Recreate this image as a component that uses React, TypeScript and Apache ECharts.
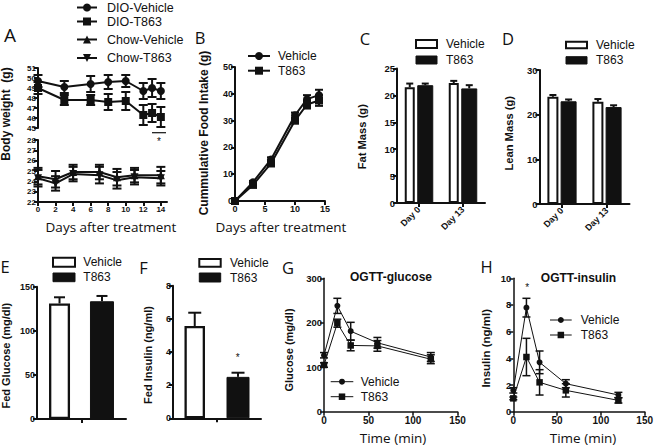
import React, { useEffect, useRef } from 'react';
import * as echarts from 'echarts';

// ---------- Panel A: body weight ----------
const aDioDays = [0, 3, 6, 8, 10, 12, 13, 14];
const aDioVehicle = [49.7, 49.1, 49.4, 49.6, 49.7, 48.7, 49.0, 48.7];
const aDioVehicleErr = [0.6, 0.6, 0.8, 0.7, 0.6, 0.8, 0.9, 0.8];
const aDioT863 = [49.0, 47.8, 47.8, 47.6, 47.7, 46.3, 46.5, 46.1];
const aDioT863Err = [0.6, 0.5, 0.5, 0.8, 0.9, 1.0, 0.9, 1.0];
const aChowDays = [0, 2, 4, 7, 9, 11, 14];
const aChowVehicle = [24.5, 24.2, 24.9, 24.9, 24.4, 24.6, 24.6];
const aChowVehicleErr = [0.8, 0.8, 0.7, 0.7, 0.8, 0.7, 0.8];
const aChowT863 = [24.3, 23.8, 24.7, 24.6, 24.1, 24.4, 24.3];
const aChowT863Err = [0.8, 0.7, 0.7, 0.8, 0.8, 0.7, 0.7];
const aXTicks = [0, 2, 4, 6, 8, 10, 12, 14];

// ---------- Panel B: cumulative food intake ----------
const bDays = [0, 3, 6, 10, 12, 14];
const bVehicle = [0, 7, 15.5, 32, 38, 39.5];
const bVehicleErr = [0, 0.5, 0.8, 1, 1.5, 2];
const bT863 = [0, 6, 14, 30, 36, 37.5];
const bT863Err = [0, 0.5, 0.8, 1, 1.5, 2];

// ---------- Panels C, D: body composition ----------
const cdCategories = ['Day 0', 'Day 13'];
const cFatVehicle = [21.5, 22.3];
const cFatVehicleErr = [0.7, 0.4];
const cFatT863 = [21.9, 21.3];
const cFatT863Err = [0.3, 0.6];
const dLeanVehicle = [24.0, 22.9];
const dLeanVehicleErr = [0.4, 0.6];
const dLeanT863 = [23.0, 21.7];
const dLeanT863Err = [0.4, 0.4];

// ---------- Panels E, F: fed glucose / insulin ----------
const efCategories = [''];
const eGlucoseVehicle = [131];
const eGlucoseVehicleErr = [7];
const eGlucoseT863 = [133.5];
const eGlucoseT863Err = [6];
const fInsulinVehicle = [5.57];
const fInsulinVehicleErr = [0.8];
const fInsulinT863 = [2.5];
const fInsulinT863Err = [0.25];

// ---------- Panels G, H: OGTT ----------
const ogttTimes = [0, 15, 30, 60, 120];
const gVehicle = [127, 238, 181, 155, 123];
const gVehicleErr = [6, 17, 20, 12, 10];
const gT863 = [105, 199, 149, 148, 118];
const gT863Err = [5, 9, 12, 12, 10];
const hVehicle = [1.6, 7.8, 3.7, 2.1, 1.25];
const hVehicleErr = [0.2, 0.7, 0.85, 0.3, 0.2];
const hT863 = [1.0, 4.1, 2.2, 1.6, 0.85];
const hT863Err = [0.1, 1.4, 0.95, 0.5, 0.2];

const BLACK = '#111';
const ARIAL = '"Liberation Sans", Arial, sans-serif';
const OPEN = '"Open Sans", sans-serif';

function txt(x: number, y: number, t: string, size: number, o: any = {}) {
  const align = o.align || 'left';
  return {
    type: 'text', x, y, rotation: o.rot || 0, silent: true,
    style: {
      text: t, fill: BLACK, fontSize: size, fontWeight: o.bold ? 'bold' : 'normal',
      fontFamily: o.family || ARIAL, align, verticalAlign: 'middle',
      textAlign: align, textVerticalAlign: 'middle',
    },
  };
}

function marker(kind: string, cx: number, cy: number, s: number) {
  if (kind === 'circle') return { type: 'circle', silent: true, shape: { cx, cy, r: s / 2 }, style: { fill: BLACK } };
  if (kind === 'rect') return { type: 'rect', silent: true, shape: { x: cx - s / 2, y: cy - s / 2, width: s, height: s }, style: { fill: BLACK } };
  const h = s / 2;
  if (kind === 'up') return { type: 'polygon', silent: true, shape: { points: [[cx, cy - h], [cx + h, cy + h], [cx - h, cy + h]] }, style: { fill: BLACK } };
  return { type: 'polygon', silent: true, shape: { points: [[cx, cy + h], [cx + h, cy - h], [cx - h, cy - h]] }, style: { fill: BLACK } };
}

function lineLegend(x1: number, x2: number, y: number, kind: string, s: number, lw: number, label: string, tx: number, fs: number) {
  return [
    { type: 'line', silent: true, shape: { x1, y1: y, x2, y2: y }, style: { stroke: BLACK, lineWidth: lw } },
    marker(kind, (x1 + x2) / 2, y, s),
    txt(tx, y, label, fs),
  ];
}

function boxLegend(x1: number, x2: number, y1: number, y2: number, white: boolean, label: string, tx: number, fs: number, bw = 2) {
  return [
    {
      type: 'rect', silent: true,
      shape: { x: x1, y: y1, width: x2 - x1, height: y2 - y1 },
      style: white ? { fill: '#fff', stroke: BLACK, lineWidth: bw } : { fill: BLACK, stroke: BLACK, lineWidth: 1 },
    },
    txt(tx, (y1 + y2) / 2, label, fs),
  ];
}

function valueAxis(gi: number, min: number, max: number, interval: number, fs: number, lw = 2, extra: any = {}) {
  return {
    type: 'value', gridIndex: gi, min, max, interval,
    splitLine: { show: false },
    axisLine: { show: true, onZero: false, lineStyle: { color: BLACK, width: lw } },
    axisTick: { show: true, length: 4, lineStyle: { color: BLACK, width: lw }, ...(extra.tick || {}) },
    axisLabel: { color: BLACK, fontSize: fs, fontWeight: 'bold', fontFamily: ARIAL, margin: 2, ...(extra.label || {}) },
    show: extra.show === undefined ? true : extra.show,
  };
}

function catAxis(gi: number, data: string[], fs: number, rotate: number) {
  return {
    type: 'category', gridIndex: gi, data, boundaryGap: true,
    axisLine: { show: true, lineStyle: { color: BLACK, width: 2 } },
    axisTick: { show: true, alignWithLabel: true, length: 4, lineStyle: { color: BLACK, width: 2 } },
    axisLabel: { color: BLACK, fontSize: fs, fontWeight: 'bold', fontFamily: ARIAL, rotate, margin: 5, interval: 0 },
    splitLine: { show: false },
  };
}

function lineSeries(xs: number[], ys: number[], gi: number, symbol: string, size: number, lw: number, rot = 0) {
  return {
    type: 'line', xAxisIndex: gi, yAxisIndex: gi,
    data: xs.map((x, i) => [x, ys[i]]),
    symbol, symbolSize: size, symbolRotate: rot, showSymbol: true,
    lineStyle: { color: BLACK, width: lw }, itemStyle: { color: BLACK },
    z: 3, silent: true,
  };
}

function errSeries(xs: number[], ys: number[], es: number[], gi: number, capW: number, lw: number, offset = 0, upOnly = false) {
  return {
    type: 'custom', xAxisIndex: gi, yAxisIndex: gi, silent: true, z: 2,
    data: xs.map((x, i) => [x, ys[i], es[i]]),
    encode: { x: 0, y: 1 },
    renderItem: (_p: any, api: any) => {
      const x = api.value(0), y = api.value(1), e = api.value(2);
      const top = api.coord([x, y + e]);
      const bot = api.coord([x, upOnly ? y : y - e]);
      const cx = top[0] + offset;
      const st = { stroke: BLACK, lineWidth: lw };
      const children: any[] = [
        { type: 'line', shape: { x1: cx, y1: top[1], x2: cx, y2: bot[1] }, style: st },
        { type: 'line', shape: { x1: cx - capW / 2, y1: top[1], x2: cx + capW / 2, y2: top[1] }, style: st },
      ];
      if (!upOnly) children.push({ type: 'line', shape: { x1: cx - capW / 2, y1: bot[1], x2: cx + capW / 2, y2: bot[1] }, style: st });
      return { type: 'group', children };
    },
  };
}

// bar pair geometry: widths of white and black bar, gap fraction
function barPair(gi: number, cats: string[], vW: number[], eW: number[], vB: number[], eB: number[], wW: number, wB: number, gap: number, capW: number, bw: number) {
  const total = wW * (1 + gap) + wB;
  const offW = -total / 2 + wW / 2;
  const offB = -total / 2 + wW * (1 + gap) + wB / 2;
  const idx = cats.map((_, i) => i);
  return [
    {
      type: 'bar', xAxisIndex: gi, yAxisIndex: gi, data: vW, barWidth: wW, barGap: gap * 100 + '%', silent: true,
      itemStyle: { color: '#fff', borderColor: BLACK, borderWidth: bw }, z: 2,
    },
    {
      type: 'bar', xAxisIndex: gi, yAxisIndex: gi, data: vB, barWidth: wB, barGap: gap * 100 + '%', silent: true,
      itemStyle: { color: BLACK, borderColor: BLACK, borderWidth: 1 }, z: 2,
    },
    errSeries(idx, vW, eW, gi, capW, 2, offW, true),
    errSeries(idx, vB, eB, gi, capW, 2, offB, true),
  ];
}

export default function App() {
  const ref = useRef<HTMLDivElement>(null);
  useEffect(() => {
    if (!ref.current) return;
    const chart = echarts.init(ref.current, null, { renderer: 'svg', width: 656, height: 448 });
    const grids = [
      { left: 38, top: 68, width: 129, height: 60 },      // A upper
      { left: 38, top: 140, width: 129, height: 62 },     // A lower
      { left: 235, top: 67, width: 90, height: 134 },     // B
      { left: 397, top: 68.5, width: 88, height: 134.5 }, // C
      { left: 539.5, top: 70, width: 90, height: 134 },   // D
      { left: 37, top: 286.7, width: 89, height: 132.3 }, // E
      { left: 173, top: 285.7, width: 88, height: 132.6 },// F
      { left: 324, top: 278.3, width: 133.5, height: 133.4 }, // G
      { left: 513.3, top: 278.3, width: 135, height: 133.4 }, // H
    ];
    const xAxis: any[] = [
      valueAxis(0, 0, 14.7, 2, 8, 2, { show: false }),
      valueAxis(1, 0, 14.7, 2, 8, 2, { tick: { customValues: aXTicks }, label: { customValues: aXTicks, margin: 3 } }),
      valueAxis(2, 0, 15, 5, 9, 2, { label: { margin: 3 } }),
      catAxis(3, cdCategories, 9, 45),
      catAxis(4, cdCategories, 9, 45),
      { ...catAxis(5, efCategories, 9, 0), axisLabel: { show: false } },
      { ...catAxis(6, efCategories, 9, 0), axisLabel: { show: false } },
      valueAxis(7, 0, 150, 50, 10, 1.5, { label: { margin: 4 } }),
      valueAxis(8, 0, 150, 50, 10, 1.5, { label: { margin: 4 } }),
    ];
    const yAxis: any[] = [
      valueAxis(0, 45, 51, 1, 8, 2),
      valueAxis(1, 22, 28, 1, 8, 2),
      valueAxis(2, 0, 50, 10, 9, 2),
      valueAxis(3, 0, 25, 5, 9.5, 2),
      valueAxis(4, 0, 30, 10, 9.5, 2),
      valueAxis(5, 0, 150, 50, 9, 2),
      valueAxis(6, 0, 8, 2, 9, 2),
      valueAxis(7, 0, 300, 100, 9.5, 1.5),
      valueAxis(8, 0, 10, 2, 9.5, 1.5),
    ];
    const series: any[] = [
      // A
      errSeries(aDioDays, aDioVehicle, aDioVehicleErr, 0, 9, 2),
      errSeries(aDioDays, aDioT863, aDioT863Err, 0, 9, 2),
      lineSeries(aDioDays, aDioVehicle, 0, 'circle', 8, 2),
      lineSeries(aDioDays, aDioT863, 0, 'rect', 8, 2),
      errSeries(aChowDays, aChowVehicle, aChowVehicleErr, 1, 9, 2),
      errSeries(aChowDays, aChowT863, aChowT863Err, 1, 9, 2),
      lineSeries(aChowDays, aChowVehicle, 1, 'triangle', 8, 2),
      lineSeries(aChowDays, aChowT863, 1, 'triangle', 8, 2, 180),
      // B
      errSeries(bDays, bVehicle, bVehicleErr, 2, 8, 2),
      errSeries(bDays, bT863, bT863Err, 2, 8, 2),
      lineSeries(bDays, bVehicle, 2, 'circle', 8, 2),
      lineSeries(bDays, bT863, 2, 'rect', 8, 2),
      // C, D, E, F
      ...barPair(3, cdCategories, cFatVehicle, cFatVehicleErr, cFatT863, cFatT863Err, 10, 16, 0.25, 7, 2),
      ...barPair(4, cdCategories, dLeanVehicle, dLeanVehicleErr, dLeanT863, dLeanT863Err, 11, 16, 0.2, 7, 2),
      ...barPair(5, efCategories, eGlucoseVehicle, eGlucoseVehicleErr, eGlucoseT863, eGlucoseT863Err, 21, 24, 0.95, 11, 2.3),
      ...barPair(6, efCategories, fInsulinVehicle, fInsulinVehicleErr, fInsulinT863, fInsulinT863Err, 20.5, 23, 1.05, 13, 2.3),
      // G
      errSeries(ogttTimes, gVehicle, gVehicleErr, 7, 8, 1.5),
      errSeries(ogttTimes, gT863, gT863Err, 7, 8, 1.5),
      lineSeries(ogttTimes, gVehicle, 7, 'circle', 6, 1),
      lineSeries(ogttTimes, gT863, 7, 'rect', 6.5, 1),
      // H
      errSeries(ogttTimes, hVehicle, hVehicleErr, 8, 8, 1.5),
      errSeries(ogttTimes, hT863, hT863Err, 8, 8, 1.5),
      lineSeries(ogttTimes, hVehicle, 8, 'circle', 6, 1),
      lineSeries(ogttTimes, hT863, 8, 'rect', 6.5, 1),
    ];
    const R = Math.PI / 2;
    const graphic: any[] = [
      // panel letters
      txt(10, 35, 'A', 19, { family: OPEN, align: 'center' }),
      txt(200, 37, 'B', 16.5, { family: OPEN, align: 'center' }),
      txt(365, 38, 'C', 16.5, { family: OPEN, align: 'center' }),
      txt(508, 38, 'D', 16.5, { family: OPEN, align: 'center' }),
      txt(5, 266, 'E', 16.5, { family: OPEN, align: 'center' }),
      txt(143.5, 267, 'F', 16.5, { family: OPEN, align: 'center' }),
      txt(288, 267, 'G', 16.5, { family: OPEN, align: 'center' }),
      txt(486.7, 266, 'H', 16.5, { family: OPEN, align: 'center' }),
      // A legend
      ...lineLegend(77, 97, 7.5, 'circle', 8, 2, 'DIO-Vehicle', 107, 12.5),
      ...lineLegend(77, 97, 21.5, 'rect', 8, 2, 'DIO-T863', 107, 12.5),
      ...lineLegend(77, 97, 39.5, 'up', 8, 2, 'Chow-Vehicle', 107, 12.5),
      ...lineLegend(77, 97, 58, 'down', 8, 2, 'Chow-T863', 107, 12.5),
      // A annotations
      { type: 'line', silent: true, shape: { x1: 152, y1: 132.7, x2: 166, y2: 132.7 }, style: { stroke: BLACK, lineWidth: 1.2 } },
      txt(159, 141, '*', 10, { align: 'center' }),
      txt(6, 114, 'Body weight  (g)', 12, { bold: true, align: 'center', rot: R }),
      txt(111, 227, 'Days after treatment', 13.5, { family: OPEN, align: 'center' }),
      // B
      ...lineLegend(248, 270, 56, 'circle', 8, 2, 'Vehicle', 278, 12),
      ...lineLegend(248, 270, 70.7, 'rect', 8, 2, 'T863', 278, 12),
      txt(203.5, 133, 'Cummulative Food Intake (g)', 12, { bold: true, align: 'center', rot: R }),
      txt(281, 227, 'Days after treatment', 13.5, { family: OPEN, align: 'center' }),
      // C
      ...boxLegend(416, 437, 40, 48, true, 'Vehicle', 446, 12),
      ...boxLegend(416, 437, 56, 64, false, 'T863', 446, 12),
      txt(362, 136.7, 'Fat Mass (g)', 11.2, { bold: true, align: 'center', rot: R }),
      // D
      ...boxLegend(566, 587, 41.7, 48.3, true, 'Vehicle', 596, 12),
      ...boxLegend(566, 587, 56.7, 64, false, 'T863', 596, 12),
      txt(508.8, 133.3, 'Lean Mass (g)', 11.2, { bold: true, align: 'center', rot: R }),
      // E
      ...boxLegend(53, 75, 257.7, 266.7, true, 'Vehicle', 83.3, 12),
      ...boxLegend(53, 75, 273, 281.7, false, 'T863', 83.3, 12),
      txt(5.5, 355.7, 'Fed Glucose (mg/dl)', 11, { bold: true, align: 'center', rot: R }),
      // F
      ...boxLegend(199.3, 220.7, 259, 266.7, true, 'Vehicle', 230, 12),
      ...boxLegend(199.3, 220.7, 273, 282, false, 'T863', 230, 12),
      txt(148, 355, 'Fed Insulin (ng/ml)', 11, { bold: true, align: 'center', rot: R }),
      txt(237.7, 357.5, '*', 10, { align: 'center' }),
      // G
      txt(391, 277.3, 'OGTT-glucose', 12, { bold: true, align: 'center' }),
      ...lineLegend(330.7, 353.3, 381.7, 'circle', 6, 1, 'Vehicle', 360.7, 12),
      ...lineLegend(330.7, 353.3, 396.7, 'rect', 6.5, 1, 'T863', 360.7, 12),
      txt(289, 350, 'Glucose (mg/dl)', 11, { bold: true, align: 'center', rot: R }),
      txt(393, 437.5, 'Time (min)', 13.5, { family: OPEN, align: 'center' }),
      // H
      txt(578.5, 278.3, 'OGTT-insulin', 12, { bold: true, align: 'center' }),
      txt(527.3, 287, '*', 10, { align: 'center' }),
      ...lineLegend(550, 571.7, 320, 'circle', 6, 1, 'Vehicle', 580.7, 12),
      ...lineLegend(550, 571.7, 335, 'rect', 6.5, 1, 'T863', 580.7, 12),
      txt(485.8, 348.3, 'Insulin (ng/ml)', 11.5, { bold: true, align: 'center', rot: R }),
      txt(583, 437.5, 'Time (min)', 13.5, { family: OPEN, align: 'center' }),
    ];
    chart.setOption({
      animation: false,
      backgroundColor: '#fff',
      grid: grids.map((g) => ({ ...g, containLabel: false })),
      xAxis,
      yAxis,
      series,
      graphic,
    });
    return () => chart.dispose();
  }, []);
  return <div ref={ref} style={{ position: 'absolute', left: 0, top: 0, width: 656, height: 448 }} />;
}
